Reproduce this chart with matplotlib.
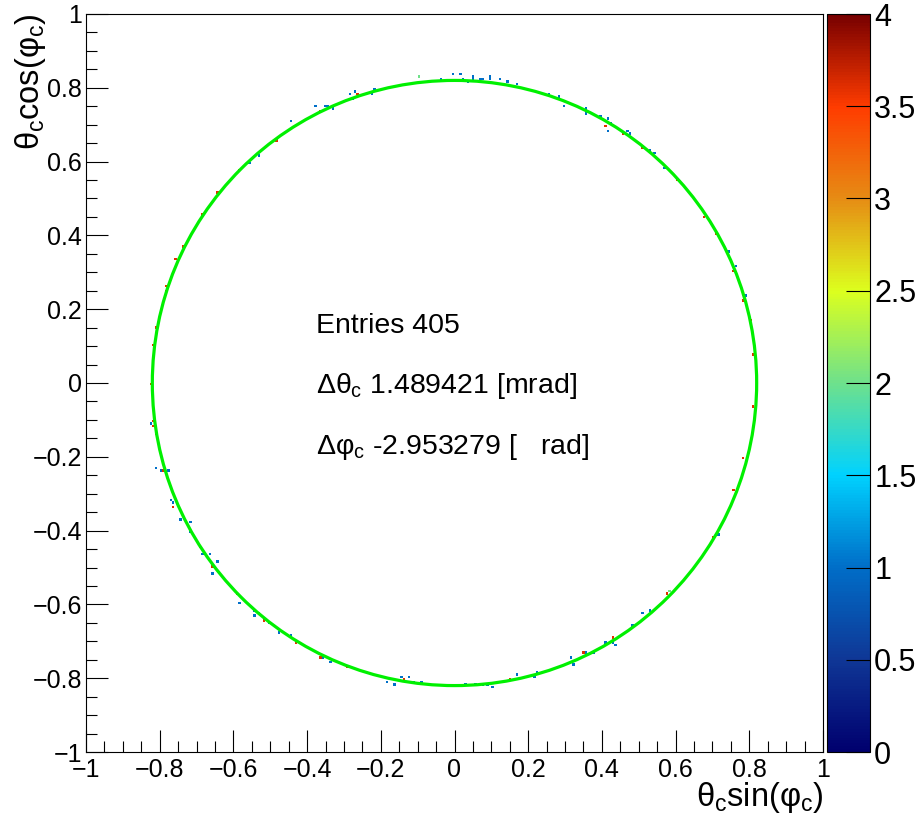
import numpy as np
import matplotlib
matplotlib.use("Agg")
import matplotlib.pyplot as plt
from matplotlib.colors import LinearSegmentedColormap
from matplotlib.patches import Circle
from matplotlib.ticker import MultipleLocator

plt.rcParams["font.family"] = ["Liberation Sans", "DejaVu Sans"]
plt.rcParams["mathtext.fontset"] = "custom"
plt.rcParams["mathtext.rm"] = "Liberation Sans"
plt.rcParams["mathtext.it"] = "Liberation Sans"
plt.rcParams["mathtext.bf"] = "Liberation Sans:bold"

# cells sitting off the fitted ring (mostly single hits)
speck_x = [-0.098, -0.442, -0.374, -0.351, -0.340, -0.327, -0.282, -0.267, -0.279, -0.220,
           -0.216, -0.528, -0.560, -0.001, 0.015, 0.022, 0.047, 0.051, 0.067, 0.080,
           0.096, 0.099, 0.123, 0.146, 0.171, 0.037, -0.039, 0.259, 0.286, 0.294,
           0.359, 0.354, 0.395, 0.417, 0.422, 0.417, 0.467, 0.476, 0.530, 0.544,
           0.571, 0.743, 0.761, 0.793, -0.826, -0.808, -0.795, -0.777, -0.772, -0.763,
           -0.745, -0.718, -0.718, -0.686, -0.664, -0.645, -0.659, -0.582, -0.546, -0.541,
           -0.528, -0.505, -0.478, -0.442, -0.360, -0.338, -0.333, -0.184, -0.161, -0.143,
           -0.121, -0.112, -0.089, 0.033, 0.056, 0.078, 0.092, 0.105, 0.173, 0.200,
           0.218, 0.221, 0.318, 0.324, 0.359, 0.377, 0.413, 0.431, 0.438, 0.481,
           0.508, 0.530, 0.581, 0.680, 0.716]
speck_y = [0.832, 0.711, 0.751, 0.753, 0.749, 0.743, 0.785, 0.787, 0.772, 0.785,
           0.799, 0.618, 0.594, 0.837, 0.837, 0.826, 0.830, 0.823, 0.821, 0.821,
           0.832, 0.826, 0.823, 0.814, 0.808, 0.814, 0.823, 0.780, 0.778, 0.753,
           0.744, 0.731, 0.726, 0.715, 0.704, 0.686, 0.681, 0.678, 0.627, 0.623,
           0.586, 0.360, 0.315, 0.238, -0.109, -0.227, -0.234, -0.236, -0.317, -0.324,
           -0.367, -0.376, -0.403, -0.466, -0.466, -0.484, -0.520, -0.597, -0.615, -0.629,
           -0.624, -0.651, -0.677, -0.680, -0.746, -0.755, -0.749, -0.809, -0.814, -0.794,
           -0.800, -0.809, -0.809, -0.818, -0.818, -0.814, -0.816, -0.823, -0.787, -0.798,
           -0.800, -0.782, -0.742, -0.762, -0.733, -0.728, -0.705, -0.701, -0.713, -0.656,
           -0.624, -0.615, -0.566, -0.462, -0.407]
speck_w = [2, 1, 1, 1, 1, 1, 1, 1, 1, 1,
           1, 1, 1, 1, 1, 1, 1, 1, 1, 1,
           1, 1, 1, 1, 1, 1, 1, 1, 1, 1,
           1, 1, 1, 1, 1, 1, 1, 1, 1, 1,
           1, 1, 1, 1, 1, 1, 1, 1, 1, 1,
           1, 1, 1, 1, 1, 1, 1, 1, 1, 1,
           1, 1, 1, 1, 1, 1, 1, 1, 1, 1,
           1, 1, 1, 1, 1, 1, 1, 1, 1, 1,
           1, 1, 1, 1, 1, 1, 1, 1, 1, 1,
           1, 1, 2, 1, 1]

# dense cells along the ring itself
ring_x = [-0.819, -0.826, -0.819, -0.813, -0.808, -0.799, -0.786, -0.754, -0.790, 0.332,
          0.413, 0.458, 0.508, 0.603, 0.675, 0.707, 0.757, 0.784, 0.807, 0.802,
          -0.121, -0.261, -0.365, -0.483, -0.582, -0.645, -0.682, -0.736, -0.786, -0.813,
          -0.817, -0.763, -0.691, -0.659, -0.591, -0.519, -0.428, -0.365, -0.293, -0.139,
          0.151, 0.350, 0.431, 0.576, 0.702, 0.757, 0.784, 0.807]
ring_y = [0.103, -0.001, -0.100, -0.136, 0.153, 0.198, 0.247, 0.338, -0.236, 0.749,
          0.695, 0.677, 0.636, 0.550, 0.451, 0.406, 0.306, 0.225, 0.080, 0.171,
          0.812, 0.785, 0.735, 0.659, 0.577, 0.514, 0.460, 0.369, 0.261, 0.125,
          -0.118, -0.335, -0.444, -0.498, -0.570, -0.642, -0.705, -0.742, -0.769, -0.805,
          -0.805, -0.733, -0.688, -0.570, -0.417, -0.290, -0.200, -0.064]
ring_w = 3.6

# fitted ring and stats box
fit_x0, fit_y0, fit_r = 0.0, 0.0, 0.82
n_entries = 405
d_theta = 1.489421
d_phi = -2.953279

cmap = LinearSegmentedColormap.from_list("rainbow_root", [
    (0.000, (0 / 255, 0 / 255, 110 / 255)),
    (0.125, (15 / 255, 55 / 255, 150 / 255)),
    (0.250, (0 / 255, 110 / 255, 200 / 255)),
    (0.375, (0 / 255, 210 / 255, 255 / 255)),
    (0.500, (110 / 255, 225 / 255, 140 / 255)),
    (0.625, (220 / 255, 255 / 255, 30 / 255)),
    (0.750, (230 / 255, 140 / 255, 20 / 255)),
    (0.875, (255 / 255, 60 / 255, 0 / 255)),
    (1.000, (120 / 255, 0 / 255, 0 / 255)),
])

all_x = np.array(speck_x + ring_x)
all_y = np.array(speck_y + ring_y)
all_w = np.array(speck_w + [ring_w] * len(ring_x), dtype=float)

edges = np.linspace(-1, 1, 301)
H, xe, ye = np.histogram2d(all_x, all_y, bins=[edges, edges], weights=all_w)
H = np.ma.masked_equal(H.T, 0)


def root_fmt(v, pos):
    if abs(v) < 1e-9:
        return "0"
    return f"{v:.1f}".rstrip("0").rstrip(".").replace("-", "\u2212")


fig = plt.figure(figsize=(9.2, 8.22), dpi=100)
ax = fig.add_axes([86 / 920, 70 / 822, 737 / 920, 738 / 822])
cax = fig.add_axes([827 / 920, 70 / 822, 43 / 920, 738 / 822])

mesh = ax.pcolormesh(xe, ye, H, cmap=cmap, vmin=0, vmax=4)
ax.add_patch(Circle((fit_x0, fit_y0), fit_r, fill=False, color="#00f000", lw=2.3, zorder=3))

ax.set_xlim(-1, 1)
ax.set_ylim(-1, 1)
ax.xaxis.set_major_locator(MultipleLocator(0.2))
ax.xaxis.set_minor_locator(MultipleLocator(0.05))
ax.yaxis.set_major_locator(MultipleLocator(0.2))
ax.yaxis.set_minor_locator(MultipleLocator(0.05))
ax.xaxis.set_major_formatter(root_fmt)
ax.yaxis.set_major_formatter(root_fmt)
ax.tick_params(which="both", direction="in", top=False, right=False, labelsize=18, width=0.8)
ax.tick_params(axis="x", which="major", length=16, pad=4)
ax.tick_params(axis="y", which="major", length=16, pad=3)
ax.tick_params(which="minor", length=8)
for s in ax.spines.values():
    s.set_linewidth(0.8)

ax.text(-0.376, 0.154, f"Entries {n_entries}", fontsize=20.5, va="center", ha="left")
ax.text(-0.376, -0.008, r"$\Delta\theta_{c}$" + f" {d_theta:.6f} [mrad]", fontsize=20.5, va="center", ha="left")
ax.text(-0.376, -0.173, r"$\Delta\varphi_{c}$" + f" {d_phi:.6f} [   rad]", fontsize=20.5, va="center", ha="left")

fig.text(823 / 920, 1 - 797 / 822, r"$\theta_{c}\mathrm{sin}(\varphi_{c})$", fontsize=23.5, ha="right", va="center")
fig.text(31 / 920, 1 - 14 / 822, r"$\theta_{c}\mathrm{cos}(\varphi_{c})$", fontsize=23.5, ha="center", va="top", rotation=90)

cb = fig.colorbar(mesh, cax=cax)
cb.set_ticks([0, 0.5, 1, 1.5, 2, 2.5, 3, 3.5, 4])
cb.set_ticklabels(["0", "0.5", "1", "1.5", "2", "2.5", "3", "3.5", "4"])
cb.outline.set_linewidth(0.8)
cax.tick_params(direction="in", length=17, width=0.8, labelsize=22, pad=3)
cax.minorticks_off()

fig.savefig("out.png", dpi=100, facecolor="white")
